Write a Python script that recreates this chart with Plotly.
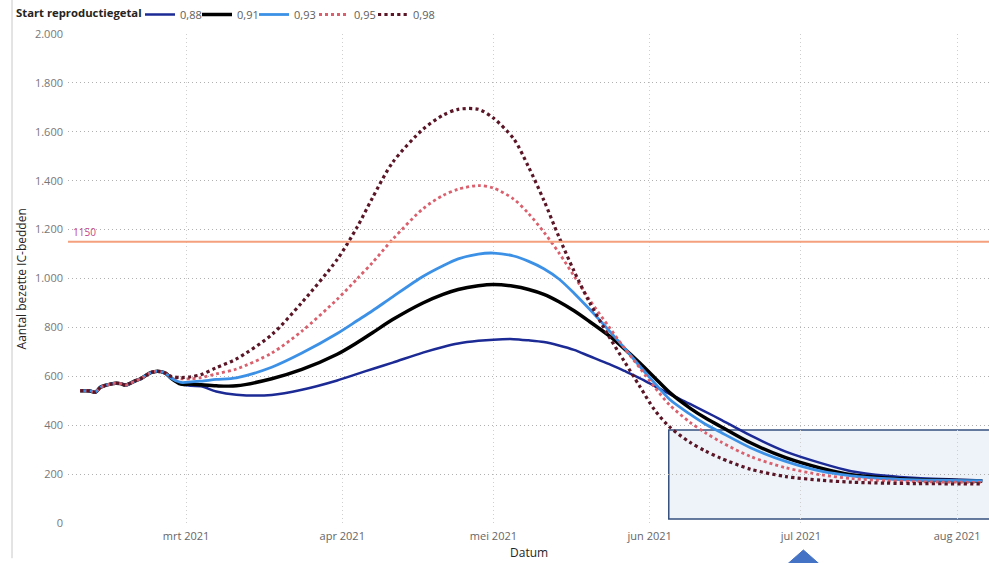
import plotly.graph_objects as go

# ---------------- data ----------------
history_dates = ["2021-02-%02d" % d for d in range(8, 26)]
history_values = [541, 541, 540, 535, 555, 563, 568, 572, 570, 564, 572, 582, 590, 603, 615, 620, 619, 612]

proj_dates = ["2021-02-26", "2021-02-28", "2021-03-02", "2021-03-04", "2021-03-07", "2021-03-11",
              "2021-03-18", "2021-03-24", "2021-03-31", "2021-04-04", "2021-04-07", "2021-04-11",
              "2021-04-17", "2021-04-21", "2021-04-24", "2021-04-28", "2021-05-01", "2021-05-05",
              "2021-05-08", "2021-05-11", "2021-05-14", "2021-05-17", "2021-05-20", "2021-05-24",
              "2021-05-27", "2021-05-30", "2021-06-02", "2021-06-05", "2021-06-09", "2021-06-12",
              "2021-06-15", "2021-06-21", "2021-06-28", "2021-07-05", "2021-07-11", "2021-07-18",
              "2021-07-24", "2021-08-06"]

r088 = [593, 568, 561, 559, 538, 525, 524, 545, 583, 610, 630, 656, 697, 720, 734, 745, 750, 752, 747,
        740, 726, 708, 683, 650, 622, 593, 560, 527, 487, 456, 424, 358, 292, 245, 212, 193, 184, 174]
r091 = [593, 568, 568, 565, 561, 561, 590, 628, 690, 738, 778, 832, 900, 935, 955, 970, 975, 968, 955,
        935, 905, 868, 825, 765, 712, 655, 594, 533, 470, 430, 396, 328, 267, 224, 197, 184, 178, 172]
r093 = [593, 575, 577, 580, 587, 594, 637, 695, 775, 828, 868, 925, 1008, 1052, 1080, 1100, 1104, 1092,
        1070, 1040, 998, 940, 876, 786, 716, 642, 572, 505, 445, 405, 372, 308, 252, 212, 193, 181, 176, 173]
r095 = [600, 590, 590, 595, 610, 630, 695, 785, 915, 1000, 1065, 1160, 1285, 1340, 1365, 1380, 1370, 1325,
        1265, 1190, 1105, 1010, 915, 800, 715, 635, 555, 482, 412, 370, 333, 272, 226, 197, 182, 173, 169, 166]
r098 = [600, 595, 598, 607, 635, 671, 770, 902, 1078, 1212, 1330, 1475, 1610, 1668, 1692, 1692, 1656, 1572,
        1455, 1320, 1170, 1030, 905, 760, 660, 560, 462, 392, 330, 295, 266, 220, 190, 175, 167, 163, 161, 160]

series_names = ["0,88", "0,91", "0,93", "0,95", "0,98"]
series_values = [r088, r091, r093, r095, r098]
series_colors = ["#1B2A94", "#000000", "#3C91E6", "#D9606C", "#5A1626"]
series_dash = ["solid", "solid", "solid", "dot", "dot"]
series_width = [2.5, 3.5, 2.8, 2.8, 3.2]
series_legend = ["legend", "legend2", "legend3", "legend4", "legend5"]
legend_x_px = [140, 197, 254, 314, 373]

legend_title = "Start reproductiegetal"
x_title = "Datum"
y_title = "Aantal bezette IC-bedden"

capacity = 1150
capacity_label = "1150"

tick_vals = ["2021-03-01", "2021-04-01", "2021-05-01", "2021-06-01", "2021-07-01", "2021-08-01"]
tick_text = ["mrt 2021", "apr 2021", "mei 2021", "jun 2021", "jul 2021", "aug 2021"]
y_ticks = [0, 200, 400, 600, 800, 1000, 1200, 1400, 1600, 1800, 2000]

FONT = "Segoe UI, Open Sans, sans-serif"

fig = go.Figure()
for name, vals, col, dash, w, lg in zip(series_names, series_values, series_colors, series_dash,
                                         series_width, series_legend):
    fig.add_trace(go.Scatter(
        x=history_dates + proj_dates, y=history_values + vals, name=name, mode="lines", legend=lg,
        line=dict(color=col, width=w, dash=dash, shape="spline", smoothing=0.8),
    ))

# capacity line
fig.add_hline(y=capacity, line=dict(color="#F4A07E", width=2), layer="above")
fig.add_annotation(x=0.003, xref="paper", y=capacity, yref="y", text=capacity_label, showarrow=False,
                   xanchor="left", yanchor="bottom", yshift=1,
                   font=dict(family=FONT, size=10, color="#C43D86"))

# highlight box
fig.add_shape(type="rect", xref="x", yref="y", x0="2021-06-04 19:00", x1="2021-08-08", y0=16, y1=380,
              fillcolor="#EEF3F9", line=dict(color="#34507E", width=1.5), layer="below")

# arrow head below the axis
fig.add_shape(type="path", xref="paper", yref="paper",
              path="M 0.7763 -0.092 L 0.7985 -0.0552 L 0.8207 -0.092 Z",
              fillcolor="#4472C4", line=dict(color="#4472C4", width=1))

# left border line of the visual
fig.add_shape(type="line", xref="paper", yref="paper", x0=-0.0608, x1=-0.0608, y0=1.075, y1=-0.072,
              line=dict(color="#C8C8C8", width=1))

# titles as annotations (precise placement)
fig.add_annotation(xref="paper", yref="paper", x=-0.0500, y=0.5, text=y_title, textangle=-90,
                   showarrow=False, xanchor="center", yanchor="middle",
                   font=dict(family=FONT, size=12, color="#252423"))
fig.add_annotation(xref="paper", yref="paper", x=0.5, y=-0.0595, text=x_title,
                   showarrow=False, xanchor="center", yanchor="middle",
                   font=dict(family=FONT, size=12, color="#252423"))
fig.add_annotation(xref="paper", yref="paper", x=-0.0585, y=1.0435, text="<b>%s</b>" % legend_title,
                   showarrow=False, xanchor="left", yanchor="middle",
                   font=dict(family=FONT, size=11.3, color="#252423"))

legend_common = dict(orientation="h", xref="container", yref="container", xanchor="left",
                     y=1.0, yanchor="top", font=dict(family=FONT, size=11, color="#605E5C"),
                     itemwidth=30, tracegroupgap=0, bgcolor="rgba(0,0,0,0)")
legends = {lg: dict(x=px / 989, **legend_common) for lg, px in zip(series_legend, legend_x_px)}

fig.update_layout(
    width=989, height=563,
    margin=dict(l=68, r=0, t=34, b=40, autoexpand=False),
    paper_bgcolor="white", plot_bgcolor="white",
    separators=",.",
    font=dict(family=FONT, size=11, color="#666666"),
    showlegend=True,
    xaxis=dict(range=["2021-02-05 14:00", "2021-08-07 08:00"], tickvals=tick_vals, ticktext=tick_text,
               showgrid=True, gridcolor="#CFCFCF", griddash="1px,3px", gridwidth=1,
               zeroline=False, showline=False, ticks="", automargin=False, ticklabelstandoff=5,
               tickfont=dict(family=FONT, size=11, color="#666666")),
    yaxis=dict(range=[0, 2000], tickvals=y_ticks, tickformat=",d",
               showgrid=True, gridcolor="#B0B0B0", griddash="1px,3px", gridwidth=1,
               zeroline=False, showline=False, ticks="", automargin=False, ticklabelstandoff=4,
               tickfont=dict(family=FONT, size=11, color="#777777")),
    **legends,
)

fig.write_html("out.html", config={"displayModeBar": False},
               post_script="document.body.style.margin='0';document.body.style.padding='0';")
